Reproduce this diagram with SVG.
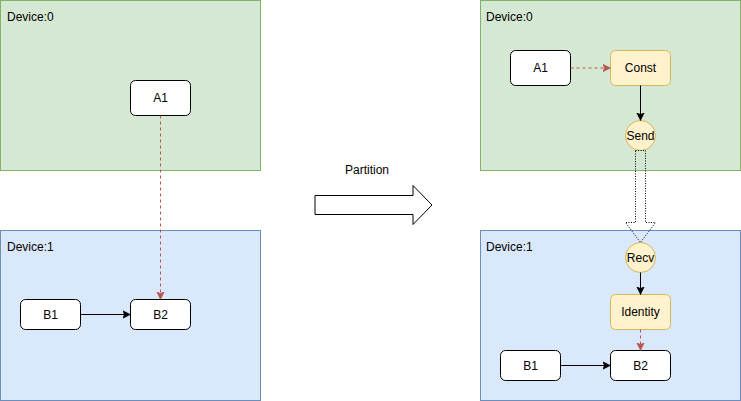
<svg xmlns="http://www.w3.org/2000/svg" width="741" height="401" viewBox="0 0 741 401">
<defs>
<style>
text{font-family:"Liberation Sans",Arial,sans-serif;font-size:12px;fill:#000}
.c{text-anchor:middle}
.g{fill:#d5e8d4;stroke:#82b366;stroke-width:1}
.b{fill:#dae8fc;stroke:#6c8ebf;stroke-width:1}
.n{fill:#fff;stroke:#000;stroke-width:1}
.y{fill:#fff2cc;stroke:#d6b656;stroke-width:1}
.e{fill:none;stroke:#000;stroke-width:1}
.r{fill:none;stroke:#b85450;stroke-width:1;stroke-dasharray:3 3}
</style>
<marker id="ab" markerUnits="userSpaceOnUse" markerWidth="10" markerHeight="10" refX="8" refY="4.5" orient="auto" viewBox="0 0 10 10">
<path d="M0,0.5 L8,4.5 L0,8.5 L2,4.5 z" fill="#000" stroke="#000" stroke-width="0.5"/>
</marker>
<marker id="ar" markerUnits="userSpaceOnUse" markerWidth="10" markerHeight="10" refX="8" refY="4.5" orient="auto" viewBox="0 0 10 10">
<path d="M0,0.5 L8,4.5 L0,8.5 L2,4.5 z" fill="#b85450" stroke="#b85450" stroke-width="0.5"/>
</marker>
</defs>
<rect width="741" height="401" fill="#fff"/>
<g id="left-device0">
<rect class="g" x="0.5" y="0.5" width="260" height="170"/>
<text x="7" y="21">Device:0</text>
</g>
<g id="left-device1">
<rect class="b" x="0.5" y="230.5" width="260" height="170"/>
<text x="7" y="251">Device:1</text>
</g>
<g id="right-device0">
<rect class="g" x="480.5" y="0.5" width="260" height="170"/>
<text x="486" y="21">Device:0</text>
</g>
<g id="right-device1">
<rect class="b" x="480.5" y="230.5" width="260" height="170"/>
<text x="486" y="251">Device:1</text>
</g>
<g id="left-A1">
<rect class="n" x="130.5" y="80.5" width="60" height="35" rx="5"/>
<text class="c" x="160.5" y="102">A1</text>
</g>
<g id="left-B1">
<rect class="n" x="20.5" y="299.5" width="60" height="30" rx="5"/>
<text class="c" x="50.5" y="318.5">B1</text>
</g>
<g id="left-B2">
<rect class="n" x="130.5" y="299.5" width="60" height="30" rx="5"/>
<text class="c" x="160.5" y="318.5">B2</text>
</g>
<g id="right-A1">
<rect class="n" x="510.5" y="50.5" width="60" height="35" rx="5"/>
<text class="c" x="540.5" y="72">A1</text>
</g>
<g id="const">
<rect class="y" x="610.5" y="50.5" width="60" height="35" rx="5"/>
<text class="c" x="640.5" y="72">Const</text>
</g>
<g id="send">
<circle class="y" cx="640.5" cy="135.5" r="15"/>
<text class="c" x="640.5" y="139.5">Send</text>
</g>
<g id="recv">
<circle class="y" cx="640.5" cy="257.5" r="15"/>
<text class="c" x="640.5" y="261.5">Recv</text>
</g>
<g id="identity">
<rect class="y" x="610.5" y="294.5" width="60" height="35" rx="5"/>
<text class="c" x="640.5" y="316">Identity</text>
</g>
<g id="right-B1">
<rect class="n" x="500.5" y="350.5" width="60" height="30" rx="5"/>
<text class="c" x="530.5" y="369.5">B1</text>
</g>
<g id="right-B2">
<rect class="n" x="610.5" y="350.5" width="60" height="30" rx="5"/>
<text class="c" x="640.5" y="369.5">B2</text>
</g>
<g id="partition">
<polygon points="315,195.5 413,195.5 413,185.5 432,205 413,224.5 413,214.5 315,214.5" fill="#fff" stroke="#000" stroke-width="1"/>
<text class="c" x="367" y="174">Partition</text>
</g>
<g id="connectors">
<line class="r" x1="160.5" y1="115.5" x2="160.5" y2="299.5" marker-end="url(#ar)"/>
<line class="e" x1="80.5" y1="314.5" x2="130.5" y2="314.5" marker-end="url(#ab)"/>
<line class="r" x1="570.5" y1="68" x2="610.5" y2="68" marker-end="url(#ar)"/>
<line class="e" x1="640.5" y1="85.5" x2="640.5" y2="120.5" marker-end="url(#ab)"/>
<polygon points="635.5,150.5 645.5,150.5 645.5,222.5 655.5,222.5 640.5,242.5 625.5,222.5 635.5,222.5" fill="none" stroke="#000" stroke-width="1" stroke-dasharray="1 1.5"/>
<line class="e" x1="640.5" y1="272.5" x2="640.5" y2="294.5" marker-end="url(#ab)"/>
<line class="r" x1="640.5" y1="329.5" x2="640.5" y2="350.5" marker-end="url(#ar)"/>
<line class="e" x1="560.5" y1="365.5" x2="610.5" y2="365.5" marker-end="url(#ab)"/>
</g>
</svg>
